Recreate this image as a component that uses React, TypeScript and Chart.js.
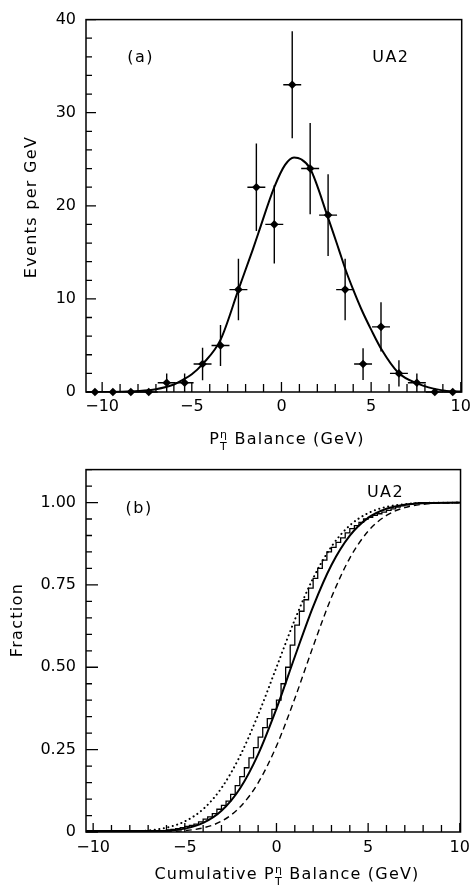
import React, { useEffect, useRef } from "react";
import { Chart, registerables } from "chart.js";

Chart.register(...registerables);

// ---------- Panel (a): events per GeV ----------
const binCentres = [-10.4, -9.4, -8.4, -7.4, -6.4, -5.4, -4.4, -3.4, -2.4, -1.4, -0.4, 0.6, 1.6, 2.6, 3.55, 4.55, 5.55, 6.55, 7.55, 8.55, 9.55];
const eventsPerGeV = [0, 0, 0, 0, 1, 1, 3, 5, 11, 22, 18, 33, 24, 19, 11, 3, 7, 2, 1, 0, 0];
const eventErrors = [0, 0, 0, 0, 1, 1, 1.75, 2.2, 3.3, 4.7, 4.2, 5.75, 4.9, 4.4, 3.3, 1.7, 2.65, 1.4, 1, 0, 0];
const binHalfWidth = 0.5;

const fitX = [-10.8, -9, -8, -7, -6, -5.5, -5, -4.4, -3.4, -2.4, -1.6, -1.3, -0.4, 0.2, 0.7, 1.1, 1.6, 2.6, 3.2, 3.6, 4.0, 4.5, 5.0, 5.6, 6.5, 7.6, 8.9, 10];
const fitY = [0, 0.03, 0.1, 0.3, 0.8, 1.3, 1.9, 3.0, 5.6, 11.0, 15.3, 17.0, 22.0, 24.4, 25.2, 25.0, 24.0, 18.7, 15.3, 13.0, 11.0, 8.7, 6.7, 4.5, 2.1, 0.9, 0.2, 0.05];

const topXTicks = [-10, -5, 0, 5, 10];
const topYTicks = [0, 10, 20, 30, 40];

// ---------- Panel (b): cumulative fraction ----------
const cumCurveX = [-10.4, -8, -7, -6, -5, -4, -3, -2, -1, 0, 1, 2, 3, 4, 5, 6, 7, 8, 10];
const fitCumulative = [0, 0.0002, 0.0009, 0.0033, 0.0102, 0.0274, 0.0643, 0.1314, 0.2358, 0.3745, 0.5319, 0.6844, 0.8106, 0.8997, 0.9535, 0.9812, 0.9934, 0.998, 1.0];
const dottedCumulative = [0.0001, 0.0015, 0.0048, 0.0132, 0.0322, 0.0694, 0.1335, 0.2296, 0.3557, 0.5, 0.6443, 0.7704, 0.8665, 0.9306, 0.9678, 0.9868, 0.9952, 0.9985, 0.9999];
const dashedCumulative = [0, 0.0001, 0.0003, 0.0012, 0.0041, 0.0125, 0.0329, 0.0749, 0.1492, 0.2611, 0.4052, 0.5636, 0.7123, 0.8315, 0.9131, 0.9608, 0.9846, 0.9948, 0.9996];

const stepX = [-10.4, -6, -5.75, -5.5, -5.25, -5, -4.75, -4.5, -4.25, -4, -3.75, -3.5, -3.25, -3, -2.75, -2.5, -2.25, -2, -1.75, -1.5, -1.25, -1, -0.75, -0.5, -0.25, 0, 0.25, 0.5, 0.75, 1, 1.25, 1.5, 1.75, 2, 2.25, 2.5, 2.75, 3, 3.25, 3.5, 3.75, 4, 4.25, 4.5, 4.75, 5, 5.25, 5.5, 5.75, 6, 6.25, 6.5, 6.75, 7, 7.25, 7.5, 7.75, 8, 10];
const stepFraction = [0, 0.004, 0.006, 0.008, 0.01, 0.013, 0.017, 0.02, 0.024, 0.031, 0.039, 0.046, 0.056, 0.069, 0.081, 0.094, 0.114, 0.141, 0.168, 0.195, 0.225, 0.256, 0.288, 0.317, 0.344, 0.372, 0.4, 0.45, 0.5, 0.567, 0.628, 0.67, 0.705, 0.74, 0.77, 0.8, 0.825, 0.85, 0.864, 0.879, 0.893, 0.908, 0.921, 0.93, 0.94, 0.95, 0.955, 0.961, 0.966, 0.971, 0.976, 0.981, 0.986, 0.99, 0.993, 0.996, 0.998, 1.0, 1.0];

const bottomXTicks = [-10, -5, 0, 5, 10];
const bottomYTicks = [0, 0.25, 0.5, 0.75, 1.0];
const bottomYLabels = ["0", "0.25", "0.50", "0.75", "1.00"];

const FONT = "DejaVu Sans";
Chart.defaults.font.family = FONT;
Chart.defaults.color = "#000";

const fmtX = (v: number) => (v < 0 ? "\u2212" + Math.abs(v) : String(v));

type Deco = {
  xStep: number; xMajor: number; xLen: number; xMajorLen: number;
  yStep: number; yMajor: number; yLen: number; yMajorLen: number;
  errors?: boolean;
  notes: { text: string; x: number; y: number }[];
  xTitlePre: string;
  xTitleCx: number;
  xTitleCy: number;
  yTitle: string;
  yTitleCx: number;
  yTitleCy: number;
};

function drawXTitle(ctx: CanvasRenderingContext2D, pre: string, cx: number, cy: number) {
  const big = `16px "${FONT}"`;
  const small = `11px "${FONT}"`;
  const post = " Balance (GeV)";
  ctx.textBaseline = "middle";
  ctx.textAlign = "left";
  (ctx as any).letterSpacing = "1.2px";
  ctx.font = big;
  const wPre = pre ? ctx.measureText(pre).width : 0;
  const wP = ctx.measureText("P").width;
  const wPost = ctx.measureText(post).width;
  ctx.font = small;
  const wStack = Math.max(ctx.measureText("\u03b7").width, ctx.measureText("T").width);
  const total = wPre + wP + wStack + wPost;
  let x = cx - total / 2;
  ctx.font = big;
  if (pre) { ctx.fillText(pre, x, cy); x += wPre; }
  ctx.fillText("P", x, cy); x += wP;
  ctx.font = small;
  ctx.fillText("\u03b7", x, cy - 5);
  ctx.fillText("T", x, cy + 7);
  x += wStack;
  ctx.font = big;
  ctx.fillText(post, x, cy);
}

function decorPlugin(cfg: Deco) {
  return {
    id: "decor",
    afterDatasetsDraw(chart: any) {
      const { ctx, chartArea: a, scales } = chart;
      const xs = scales.x, ys = scales.y;
      ctx.save();
      ctx.strokeStyle = "#000";
      ctx.fillStyle = "#000";

      if (cfg.errors) {
        ctx.lineWidth = 1.4;
        binCentres.forEach((xv, i) => {
          const yv = eventsPerGeV[i];
          const e = eventErrors[i];
          const px = xs.getPixelForValue(xv);
          const py = ys.getPixelForValue(yv);
          ctx.beginPath();
          if (e > 0) {
            ctx.moveTo(px, ys.getPixelForValue(yv - e));
            ctx.lineTo(px, ys.getPixelForValue(yv + e));
          }
          ctx.moveTo(xs.getPixelForValue(xv - binHalfWidth), py);
          ctx.lineTo(xs.getPixelForValue(xv + binHalfWidth), py);
          ctx.stroke();
        });
      }

      // frame
      ctx.lineWidth = 1.5;
      ctx.strokeRect(a.left, a.top, a.right - a.left, a.bottom - a.top);

      // inward ticks
      ctx.lineWidth = 1.3;
      ctx.beginPath();
      const isMult = (v: number, m: number) => Math.abs(v / m - Math.round(v / m)) < 1e-6;
      for (let k = Math.ceil(xs.min / cfg.xStep - 1e-9); k * cfg.xStep <= xs.max + 1e-9; k++) {
        const v = k * cfg.xStep;
        const px = xs.getPixelForValue(v);
        const len = isMult(v, cfg.xMajor) ? cfg.xMajorLen : cfg.xLen;
        ctx.moveTo(px, a.bottom);
        ctx.lineTo(px, a.bottom - len);
      }
      for (let k = Math.ceil(ys.min / cfg.yStep - 1e-9); k * cfg.yStep <= ys.max + 1e-9; k++) {
        const v = k * cfg.yStep;
        const py = ys.getPixelForValue(v);
        const len = isMult(v, cfg.yMajor) ? cfg.yMajorLen : cfg.yLen;
        ctx.moveTo(a.left, py);
        ctx.lineTo(a.left + len, py);
      }
      ctx.stroke();

      // notes
      ctx.font = `16px "${FONT}"`;
      (ctx as any).letterSpacing = "1.5px";
      ctx.textAlign = "center";
      ctx.textBaseline = "middle";
      cfg.notes.forEach((n) => {
        ctx.fillText(n.text, xs.getPixelForValue(n.x), ys.getPixelForValue(n.y));
      });

      // x title
      drawXTitle(ctx, cfg.xTitlePre, cfg.xTitleCx, cfg.xTitleCy);

      // y title
      ctx.save();
      ctx.translate(cfg.yTitleCx, cfg.yTitleCy);
      ctx.rotate(-Math.PI / 2);
      ctx.font = `16px "${FONT}"`;
      (ctx as any).letterSpacing = "1.3px";
      ctx.textAlign = "center";
      ctx.textBaseline = "middle";
      ctx.fillText(cfg.yTitle, 0, 0);
      ctx.restore();

      ctx.restore();
    },
  };
}

function axisCommon() {
  return {
    grid: { display: false, drawTicks: false },
    border: { display: false },
  };
}

function topConfig(): any {
  return {
    type: "scatter",
    data: {
      datasets: [
        {
          data: binCentres.map((x, i) => ({ x, y: eventsPerGeV[i] })),
          pointStyle: "rectRot",
          pointRadius: 4.3,
          backgroundColor: "#000",
          borderColor: "#000",
          borderWidth: 0,
          showLine: false,
          clip: false,
        },
        {
          data: fitX.map((x, i) => ({ x, y: fitY[i] })),
          showLine: true,
          borderColor: "#000",
          borderWidth: 2,
          pointRadius: 0,
          cubicInterpolationMode: "monotone",
        },
      ],
    },
    options: {
      responsive: false,
      animation: false,
      events: [],
      layout: { padding: { top: 18, right: 9, bottom: 0, left: 0 }, autoPadding: false },
      plugins: { legend: { display: false }, tooltip: { enabled: false } },
      scales: {
        x: {
          type: "linear",
          min: -10.9,
          max: 10.05,
          ...axisCommon(),
          afterBuildTicks: (s: any) => { s.ticks = topXTicks.map((v) => ({ value: v })); },
          afterFit: (s: any) => { s.height = 58; },
          ticks: { callback: (v: number) => fmtX(v), font: { size: 16 }, color: "#000", padding: 5, maxRotation: 0, autoSkip: false },
        },
        y: {
          type: "linear",
          min: 0,
          max: 40,
          ...axisCommon(),
          afterBuildTicks: (s: any) => { s.ticks = topYTicks.map((v) => ({ value: v })); },
          afterFit: (s: any) => { s.width = 86; },
          ticks: { callback: (v: number) => String(v), font: { size: 16 }, color: "#000", padding: 10 },
        },
      },
    },
    plugins: [
      decorPlugin({
        xStep: 1, xMajor: 5, xLen: 8, xMajorLen: 10,
        yStep: 2, yMajor: 10, yLen: 6, yMajorLen: 10,
        errors: true,
        notes: [
          { text: "(a)", x: -7.85, y: 35.9 },
          { text: "UA2", x: 6.1, y: 35.9 },
        ],
        xTitlePre: "",
        xTitleCx: 287,
        xTitleCy: 440,
        yTitle: "Events per GeV",
        yTitleCx: 32,
        yTitleCy: 207,
      }),
    ],
  };
}

function bottomConfig(): any {
  const line = (xs: number[], ys: number[], extra: any) => ({
    data: xs.map((x, i) => ({ x, y: ys[i] })),
    showLine: true,
    borderColor: "#000",
    pointRadius: 0,
    ...extra,
  });
  return {
    type: "scatter",
    data: {
      datasets: [
        line(stepX, stepFraction, { borderWidth: 1.3, stepped: "after" }),
        line(cumCurveX, fitCumulative, { borderWidth: 2, cubicInterpolationMode: "monotone" }),
        line(cumCurveX, dottedCumulative, { borderWidth: 2, borderDash: [0.1, 4.5], borderCapStyle: "round", cubicInterpolationMode: "monotone" }),
        line(cumCurveX, dashedCumulative, { borderWidth: 1.4, borderDash: [6, 4], cubicInterpolationMode: "monotone" }),
      ],
    },
    options: {
      responsive: false,
      animation: false,
      events: [],
      layout: { padding: { top: 8, right: 10, bottom: 0, left: 0 }, autoPadding: false },
      plugins: { legend: { display: false }, tooltip: { enabled: false } },
      scales: {
        x: {
          type: "linear",
          min: -10.39,
          max: 10.04,
          ...axisCommon(),
          afterBuildTicks: (s: any) => { s.ticks = bottomXTicks.map((v) => ({ value: v })); },
          afterFit: (s: any) => { s.height = 55; },
          ticks: { callback: (v: number) => fmtX(v), font: { size: 16 }, color: "#000", padding: 6, maxRotation: 0, autoSkip: false },
        },
        y: {
          type: "linear",
          min: 0,
          max: 1.1,
          ...axisCommon(),
          afterBuildTicks: (s: any) => { s.ticks = bottomYTicks.map((v) => ({ value: v })); },
          afterFit: (s: any) => { s.width = 86; },
          ticks: {
            callback: (v: number) => {
              const i = bottomYTicks.findIndex((t) => Math.abs(t - v) < 1e-9);
              return i >= 0 ? bottomYLabels[i] : "";
            },
            font: { size: 16 },
            color: "#000",
            padding: 10,
          },
        },
      },
    },
    plugins: [
      decorPlugin({
        xStep: 1, xMajor: 5, xLen: 7, xMajorLen: 9,
        yStep: 0.05, yMajor: 0.25, yLen: 6, yMajorLen: 12,
        notes: [
          { text: "(b)", x: -7.49, y: 0.981 },
          { text: "UA2", x: 5.95, y: 1.03 },
        ],
        xTitlePre: "Cumulative ",
        xTitleCx: 287,
        xTitleCy: 425,
        yTitle: "Fraction",
        yTitleCx: 18,
        yTitleCy: 170,
      }),
    ],
  };
}

export default function App() {
  const topRef = useRef<HTMLCanvasElement>(null);
  const botRef = useRef<HTMLCanvasElement>(null);
  useEffect(() => {
    const c1 = new Chart(topRef.current as HTMLCanvasElement, topConfig());
    const c2 = new Chart(botRef.current as HTMLCanvasElement, bottomConfig());
    return () => {
      c1.destroy();
      c2.destroy();
    };
  }, []);
  return (
    <div style={{ position: "absolute", left: 0, top: 0, width: 476, height: 887, background: "#fff" }}>
      <canvas ref={topRef} width={476} height={450} style={{ position: "absolute", left: 0, top: 0, display: "block" }} />
      <canvas ref={botRef} width={476} height={437} style={{ position: "absolute", left: 0, top: 450, display: "block" }} />
    </div>
  );
}
